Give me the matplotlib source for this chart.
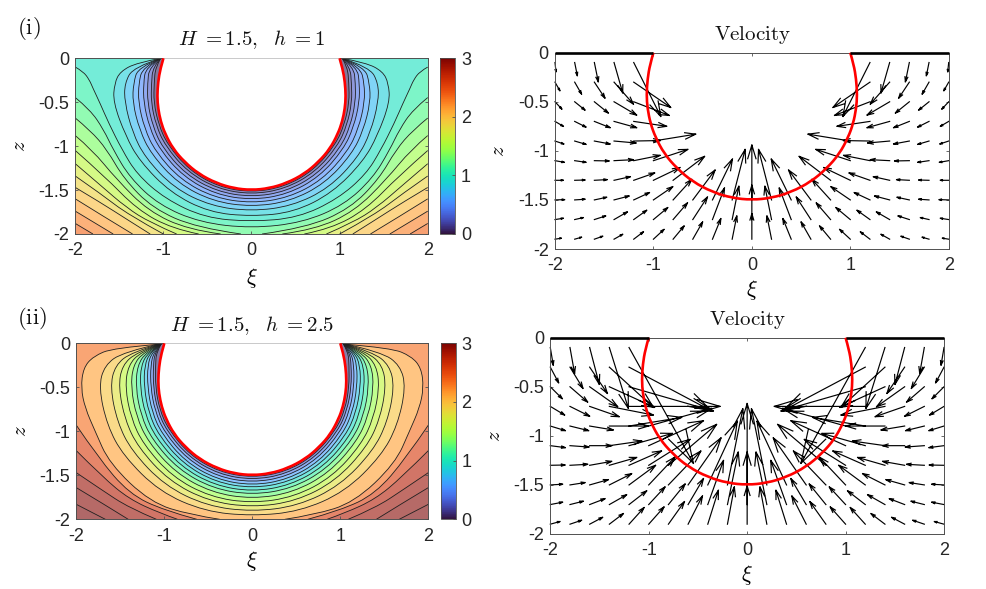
#!/usr/bin/env python
import numpy as np
import matplotlib
matplotlib.use("Agg")
import matplotlib.pyplot as plt
from matplotlib.path import Path
from matplotlib.patches import PathPatch
from matplotlib.cm import ScalarMappable
from matplotlib.colors import Normalize

plt.rcParams['font.family'] = ['Liberation Sans', 'DejaVu Sans']
plt.rcParams['mathtext.fontset'] = 'cm'

W, H = 987, 589
nan = np.nan

# drop outline, left half (mirrored for the right half)
bubble = [(-1.0, 0), (-1.035, -.12), (-1.06, -.27), (-1.07, -.43), (-1.06, -.57), (-1.03, -.72), (-.98, -.86),
          (-.89, -1.03), (-.76, -1.18), (-.6, -1.315), (-.4, -1.42), (-.2, -1.48), (0, -1.5)]

# contour lines, left half, inner to outer
case1_lines = [
    [(-1.03, 0), (-1.09, -.1), (-1.105, -.284), (-1.11, -.5), (-1.055, -.752), (-.955, -.98), (-.708, -1.273), (-.376, -1.463), (0, -1.527)],
    [(-1.03, 0), (-1.12, -.1), (-1.135, -.284), (-1.14, -.5), (-1.084, -.761), (-.979, -.996), (-.725, -1.294), (-.384, -1.486), (0, -1.55)],
    [(-1.03, 0), (-1.16, -.1), (-1.18, -.284), (-1.18, -.5), (-1.121, -.772), (-1.012, -1.015), (-.748, -1.321), (-.395, -1.516), (0, -1.58)],
    [(-1.03, 0), (-1.20, -.1), (-1.225, -.284), (-1.225, -.5), (-1.159, -.784), (-1.045, -1.034), (-.772, -1.349), (-.407, -1.549), (0, -1.614)],
    [(-1.03, 0), (-1.235, -.1), (-1.28, -.284), (-1.285, -.5), (-1.214, -.801), (-1.092, -1.06), (-.802, -1.386), (-.421, -1.587), (0, -1.65)],
    [(-1.03, 0), (-1.285, -.1), (-1.34, -.284), (-1.35, -.5), (-1.27, -.818), (-1.14, -1.088), (-.835, -1.424), (-.436, -1.629), (0, -1.69)],
    [(-1.03, 0), (-1.34, -.1), (-1.44, -.284), (-1.44, -.5), (-1.351, -.843), (-1.209, -1.128), (-.88, -1.478), (-.456, -1.683), (0, -1.74)],
    [(-1.03, 0), (-1.30, -.05), (-1.49, -.15), (-1.555, -.284), (-1.57, -.5), (-1.43, -.88), (-1.27, -1.17), (-.92, -1.53), (-.481, -1.753), (0, -1.80)],
    [(-2, -.10), (-1.91, -.15), (-1.84, -.246), (-1.80, -.34), (-1.72, -.51), (-1.62, -.74), (-1.47, -1.04), (-1.30, -1.32), (-.98, -1.6), (-.53, -1.815), (0, -1.86)],
    [(-2, -.447), (-1.83, -.587), (-1.68, -.81), (-1.57, -1.04), (-1.38, -1.36), (-1.05, -1.67), (-.58, -1.87), (0, -1.935)],
    [(-2, -.68), (-1.83, -.82), (-1.64, -1.04), (-1.45, -1.37), (-1.12, -1.71), (-.62, -1.93), (-.12, -2)],
    [(-2, -.88), (-1.81, -1.04), (-1.53, -1.38), (-1.17, -1.74), (-.72, -1.95), (-.35, -2)],
    [(-2, -1.05), (-1.67, -1.34), (-1.3, -1.72), (-.9, -1.94), (-.6, -2)],
    [(-2, -1.20), (-1.72, -1.44), (-1.42, -1.7), (-1.15, -1.87), (-.85, -2)],
    [(-2, -1.34), (-1.7, -1.55), (-1.4, -1.78), (-1.0, -2)],
    [(-2, -1.47), (-1.7, -1.65), (-1.42, -1.83), (-1.15, -2)],
    [(-2, -1.60), (-1.68, -1.8), (-1.35, -2)],
    [(-2, -1.74), (-1.57, -2)],
    [(-2, -1.88), (-1.8, -2)],
]
case1_levels = [.11, .22, .33, .45, .56, .68, .79, .91, 1.02, 1.15, 1.28, 1.41, 1.54, 1.67, 1.80, 1.93, 2.06, 2.19, 2.32]

case2_lines = [
    [(-1.03, 0), (-1.09, -.1), (-1.10, -.25), (-1.10, -.5), (-1.054, -.752), (-.953, -.98), (-.707, -1.273), (-.376, -1.462), (0, -1.527)],
    [(-1.03, 0), (-1.105, -.1), (-1.125, -.25), (-1.125, -.5), (-1.077, -.759), (-.975, -.993), (-.723, -1.292), (-.384, -1.487), (0, -1.553)],
    [(-1.03, 0), (-1.12, -.1), (-1.155, -.25), (-1.155, -.5), (-1.106, -.768), (-1.001, -1.008), (-.743, -1.315), (-.395, -1.515), (0, -1.583)],
    [(-1.03, 0), (-1.14, -.1), (-1.19, -.25), (-1.19, -.5), (-1.14, -.778), (-1.031, -1.026), (-.765, -1.342), (-.406, -1.547), (0, -1.617)],
    [(-1.03, 0), (-1.16, -.1), (-1.225, -.25), (-1.23, -.5), (-1.177, -.789), (-1.064, -1.045), (-.788, -1.368), (-.418, -1.578), (0, -1.648)],
    [(-1.03, 0), (-1.18, -.1), (-1.265, -.25), (-1.275, -.5), (-1.219, -.802), (-1.102, -1.066), (-.815, -1.4), (-.431, -1.614), (0, -1.686)],
    [(-1.03, 0), (-1.205, -.1), (-1.305, -.25), (-1.325, -.5), (-1.266, -.817), (-1.142, -1.09), (-.842, -1.433), (-.445, -1.652), (0, -1.723)],
    [(-1.03, 0), (-1.235, -.1), (-1.355, -.25), (-1.38, -.5), (-1.317, -.832), (-1.187, -1.116), (-.874, -1.472), (-.461, -1.697), (0, -1.769)],
    [(-1.03, 0), (-1.27, -.1), (-1.41, -.25), (-1.445, -.5), (-1.378, -.851), (-1.24, -1.146), (-.912, -1.516), (-.479, -1.746), (0, -1.818)],
    [(-1.03, 0), (-1.31, -.1), (-1.48, -.25), (-1.52, -.5), (-1.446, -.872), (-1.299, -1.18), (-.95, -1.562), (-.497, -1.795), (0, -1.864)],
    [(-1.03, 0), (-1.37, -.1), (-1.56, -.25), (-1.615, -.5), (-1.533, -.898), (-1.372, -1.222), (-.997, -1.617), (-.516, -1.849), (0, -1.913)],
    [(-1.03, 0), (-1.47, -.1), (-1.68, -.25), (-1.745, -.5), (-1.649, -.934), (-1.466, -1.277), (-1.055, -1.686), (-.539, -1.911), (0, -1.962)],
    [(-1.05, -.01), (-1.58, -.053), (-1.807, -.148), (-1.92, -.28), (-1.947, -.507), (-1.90, -.735), (-1.79, -.99), (-1.623, -1.367), (-1.157, -1.809), (-.7, -1.95), (-.37, -2)],
    [(-2, -.93), (-1.75, -1.3), (-1.4, -1.71), (-1.0, -1.9), (-.63, -2)],
    [(-2, -1.22), (-1.7, -1.52), (-1.4, -1.77), (-1.05, -1.93), (-.85, -2)],
    [(-2, -1.47), (-1.72, -1.66), (-1.4, -1.87), (-1.09, -2)],
    [(-2, -1.64), (-1.7, -1.82), (-1.41, -2)],
    [(-2, -1.83), (-1.67, -2)],
]
case2_levels = [.17, .34, .51, .68, .85, 1.02, 1.19, 1.36, 1.53, 1.70, 1.87, 2.04, 2.21, 2.47, 2.72, 2.85, 2.93, 2.98]

# velocity arrows, left half and centre column
arrow_x = [-2.0, -1.8, -1.6, -1.4, -1.2, -1.0, -0.8, -0.6, -0.4, -0.2, 0.0]
arrow_z = [-0.1, -0.3, -0.5, -0.7, -0.9, -1.1, -1.3, -1.5, -1.7, -1.9]

case1_u = [
    [.01, .027, .04, .088, .275, nan, nan, nan, nan, nan, nan],
    [.05, .07, .108, .197, .376, nan, nan, nan, nan, nan, nan],
    [.07, .105, .142, .23, .36, nan, nan, nan, nan, nan, nan],
    [.085, .115, .16, .23, .335, nan, nan, nan, nan, nan, nan],
    [.09, .115, .16, .224, .27, .43, nan, nan, nan, nan, nan],
    [.095, .115, .15, .197, .268, .35, nan, nan, nan, nan, nan],
    [.085, .105, .13, .166, .213, .27, .32, nan, nan, nan, nan],
    [.098, .105, .125, .153, .16, .197, .19, .227, .203, .132, 0],
    [.085, .088, .115, .135, .132, .146, .146, .149, .122, .068, 0],
    [.064, .07, .085, .088, .098, .108, .112, .10, .085, .047, 0],
]
case1_v = [
    [-.095, -.135, -.197, -.31, -.55, nan, nan, nan, nan, nan, nan],
    [-.088, -.122, -.163, -.224, -.258, nan, nan, nan, nan, nan, nan],
    [-.075, -.085, -.115, -.136, -.139, nan, nan, nan, nan, nan, nan],
    [-.05, -.058, -.064, -.064, -.05, nan, nan, nan, nan, nan, nan],
    [-.03, -.034, -.03, -.02, .005, .07, nan, nan, nan, nan, nan],
    [-.017, -.017, -.003, .01, .054, .115, nan, nan, nan, nan, nan],
    [0, .003, .007, .037, .075, .13, .244, nan, nan, nan, nan],
    [.003, .007, .027, .04, .075, .135, .21, .305, .417, .515, .56],
    [.013, .02, .037, .078, .095, .122, .17, .23, .322, .34, .35],
    [.01, .02, .03, .05, .075, .10, .135, .176, .21, .237, .26],
]
case2_u = [
    [.03, .047, .098, .193, .654, nan, nan, nan, nan, nan, nan],
    [.085, .132, .18, .447, .84, nan, nan, nan, nan, nan, nan],
    [.122, .18, .285, .46, .857, nan, nan, nan, nan, nan, nan],
    [.146, .2, .30, .447, .925, nan, nan, nan, nan, nan, nan],
    [.153, .19, .24, .397, .535, .64, nan, nan, nan, nan, nan],
    [.153, .193, .224, .33, .44, .556, nan, nan, nan, nan, nan],
    [.15, .18, .224, .278, .33, .42, .49, nan, nan, nan, nan],
    [.125, .153, .19, .227, .27, .268, .33, .335, .30, .156, 0],
    [.125, .135, .156, .176, .18, .166, .17, .156, .16, .11, 0],
    [.098, .118, .132, .142, .153, .156, .163, .146, .108, .07, 0],
]
case2_v = [
    [-.18, -.264, -.376, -.62, -1.18, nan, nan, nan, nan, nan, nan],
    [-.16, -.217, -.268, -.41, -.447, nan, nan, nan, nan, nan, nan],
    [-.122, -.156, -.203, -.21, -.247, nan, nan, nan, nan, nan, nan],
    [-.088, -.10, -.105, -.088, 0, nan, nan, nan, nan, nan, nan],
    [-.047, -.047, -.04, 0, .088, .18, nan, nan, nan, nan, nan],
    [-.02, -.014, 0, .047, .125, .254, nan, nan, nan, nan, nan],
    [.003, .01, .04, .08, .146, .264, .417, nan, nan, nan, nan],
    [.007, .024, .054, .115, .2, .285, .346, .48, .65, .776, .83],
    [.024, .034, .06, .10, .14, .18, .21, .265, .45, .535, .535],
    [.027, .04, .07, .108, .17, .176, .23, .288, .346, .38, .39],
]

x_ticks = [-2, -1, 0, 1, 2]
x_labels = ['-2', '-1', '0', '1', '2']
z_ticks = [-2, -1.5, -1, -0.5, 0]
z_labels = ['-2', '-1.5', '-1', '-0.5', '0']
cbar_ticks = [0, 1, 2, 3]

frame_col = '#505050'
text_col = '#262626'


def px_axes(fig, left, right, top, bottom):
    return fig.add_axes([left / W, 1 - bottom / H, (right - left) / W, (bottom - top) / H])


def smooth(pts):
    verts = [pts[0]]
    codes = [Path.MOVETO]
    if len(pts) == 2:
        return [pts[0], pts[1]], [Path.MOVETO, Path.LINETO]
    for i in range(1, len(pts) - 1):
        if i == len(pts) - 2:
            end = pts[-1]
        else:
            end = ((pts[i][0] + pts[i + 1][0]) / 2, (pts[i][1] + pts[i + 1][1]) / 2)
        verts += [pts[i], end]
        codes += [Path.CURVE3, Path.CURVE3]
    return verts, codes


def mirror(pts):
    return [(-x, z) for x, z in pts[::-1]]


def band_colour(val):
    # surface is drawn see-through in the original, so mix with white
    c = np.array(plt.get_cmap('turbo')(val / 3.0)[:3])
    return tuple(0.6 * c + 0.4)


def style_axes(ax, xlab_px, ylab_px):
    ax.set_xlim(-2, 2)
    ax.set_ylim(-2, 0)
    ax.set_xticks(x_ticks)
    ax.set_xticklabels(x_labels)
    ax.set_yticks(z_ticks)
    ax.set_yticklabels(z_labels)
    ax.tick_params(direction='in', length=2.5, width=0.6, top=True, right=True,
                   color=frame_col, labelcolor=text_col, labelsize=13)
    ax.tick_params(axis='x', pad=6)
    ax.tick_params(axis='y', pad=4.5)
    for s in ax.spines.values():
        s.set_color(frame_col)
        s.set_linewidth(0.7)
    box = ax.get_position()
    wpx = box.width * W
    hpx = box.height * H
    ax.set_xlabel(r'$\xi$', fontsize=16, va='center')
    ax.xaxis.set_label_coords(0.5, -xlab_px / hpx)
    ax.set_ylabel(r'$z$', fontsize=15, va='center')
    ax.yaxis.set_label_coords(-ylab_px / wpx, 0.5)


def draw_field(ax, lines, levels):
    top = levels[-1] + 0.05
    ax.set_facecolor(band_colour(top))
    strokes = []
    for k in range(len(lines) - 1, -1, -1):
        left = lines[k]
        low = levels[k - 1] if k > 0 else 0.0
        col = band_colour((low + levels[k]) / 2)
        if left[-1][0] == 0:
            # crosses the centre line, keep it smooth there
            verts, codes = smooth(left + mirror(left)[1:])
            strokes.append((list(verts), list(codes)))
        else:
            l_v, l_c = smooth(left)
            r_v, r_c = smooth(mirror(left))
            strokes.append((list(l_v), list(l_c)))
            strokes.append((list(r_v), list(r_c)))
            verts = list(l_v) + list(r_v)
            codes = list(l_c) + [Path.LINETO] + list(r_c[1:])
        verts = list(verts)
        codes = list(codes)
        if left[0][0] == -2:
            verts += [(2, 0), (-2, 0), (-2, left[0][1])]
            codes += [Path.LINETO, Path.LINETO, Path.LINETO]
        ax.add_patch(PathPatch(Path(verts, codes), facecolor=col, edgecolor='none', zorder=1))
    for v, c in strokes:
        ax.add_patch(PathPatch(Path(v, c), facecolor='none', edgecolor='#202020',
                               linewidth=0.6, zorder=2))
    full = bubble + mirror(bubble)[1:]
    v, c = smooth(full)
    ax.add_patch(PathPatch(Path(v, c), facecolor='white', edgecolor='none', zorder=3))
    ax.add_patch(PathPatch(Path(v, c), facecolor='none', edgecolor='red', linewidth=1.9, zorder=4))


def draw_arrows(ax, u, v):
    # open two-barb heads, size follows the arrow length
    alpha, beta = 0.25, 0.3
    xs, zs = [], []
    for i, z0 in enumerate(arrow_z):
        for j, x0 in enumerate(arrow_x):
            if np.isnan(u[i][j]):
                continue
            signs = [1, -1] if x0 != 0 else [1]
            for s in signs:
                du = s * u[i][j]
                dv = v[i][j]
                x1 = s * x0
                xs += [x1, x1 + du, nan]
                zs += [z0, z0 + dv, nan]
                tipx, tipz = x1 + du, z0 + dv
                xs += [tipx - alpha * (du + beta * dv), tipx, tipx - alpha * (du - beta * dv), nan]
                zs += [tipz - alpha * (dv - beta * du), tipz, tipz - alpha * (dv + beta * du), nan]
    ax.plot(xs, zs, color='black', lw=0.85, zorder=2, clip_on=False, solid_joinstyle='miter')
    full = bubble + mirror(bubble)[1:]
    vv, cc = smooth(full)
    ax.add_patch(PathPatch(Path(vv, cc), facecolor='none', edgecolor='red', linewidth=1.9,
                           zorder=4, clip_on=False))
    ax.plot([-2, -1], [0, 0], color='black', lw=1.9, zorder=5, clip_on=False, solid_capstyle='butt')
    ax.plot([1, 2], [0, 0], color='black', lw=1.9, zorder=5, clip_on=False, solid_capstyle='butt')


fig = plt.figure(figsize=(W / 100, H / 100), dpi=100)

# (i) left
ax1 = px_axes(fig, 75.3, 427.7, 58.3, 234)
draw_field(ax1, case1_lines, case1_levels)
style_axes(ax1, 44, 56)
cax1 = px_axes(fig, 440, 455.3, 58.3, 234)

# (i) right
ax2 = px_axes(fig, 555, 948.7, 52.7, 249)
draw_arrows(ax2, case1_u, case1_v)
style_axes(ax2, 41, 56)

# (ii) left
ax3 = px_axes(fig, 76.3, 428.3, 343.3, 519.3)
draw_field(ax3, case2_lines, case2_levels)
style_axes(ax3, 42, 56)
cax2 = px_axes(fig, 441, 455.7, 343.3, 519.3)

# (ii) right
ax4 = px_axes(fig, 550.3, 944, 337.7, 534)
draw_arrows(ax4, case2_u, case2_v)
style_axes(ax4, 41, 56)

for cax in (cax1, cax2):
    cb = fig.colorbar(ScalarMappable(Normalize(0, 3), 'turbo'), cax=cax, ticks=cbar_ticks)
    cb.ax.set_yticklabels([str(t) for t in cbar_ticks])
    cb.ax.tick_params(direction='in', length=2.5, width=0.6, color=frame_col,
                      labelcolor=text_col, labelsize=13, pad=4)
    cb.outline.set_edgecolor(frame_col)
    cb.outline.set_linewidth(0.6)

title_size = 15
fig.text(252 / W, 1 - 40 / H, r'$H\ {=}1.5,\ \ h\ {=}1$', ha='center', va='center', fontsize=title_size, color='#111111')
fig.text(252 / W, 1 - 326 / H, r'$H\ {=}1.5,\ \ h\ {=}2.5$', ha='center', va='center', fontsize=title_size, color='#111111')
fig.text(752 / W, 1 - 35 / H, r'$\mathrm{Velocity}$', ha='center', va='center', fontsize=title_size, color='#111111')
fig.text(747 / W, 1 - 320 / H, r'$\mathrm{Velocity}$', ha='center', va='center', fontsize=title_size, color='#111111')
fig.text(17 / W, 1 - 29 / H, r'$\mathrm{(i)}$', ha='left', va='center', fontsize=16.5, color='#111111')
fig.text(17 / W, 1 - 319 / H, r'$\mathrm{(ii)}$', ha='left', va='center', fontsize=16.5, color='#111111')

fig.savefig('out.png', dpi=100)
